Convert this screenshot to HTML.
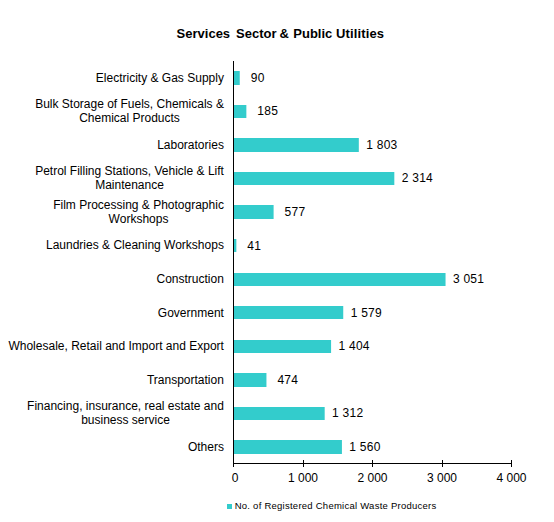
<!DOCTYPE html>
<html><head><meta charset="utf-8"><style>
html,body{margin:0;padding:0;background:#fff;width:554px;height:522px;overflow:hidden}
svg{display:block}
text{font-family:"Liberation Sans",sans-serif;fill:#000;white-space:pre}
.t{font-size:13px;font-weight:bold}
.l{font-size:12px;letter-spacing:0.25px}
.c{font-size:12px;text-anchor:end}
.a{font-size:12px;text-anchor:middle}
.g{font-size:9.5px;letter-spacing:0.25px}
</style></head><body>
<svg width="554" height="522" viewBox="0 0 554 522">
<rect width="554" height="522" fill="#fff"/>
<text y="38" class="t"><tspan x="176.6">Services</tspan><tspan x="236">Sector</tspan><tspan x="279.4">&amp;</tspan><tspan x="293.3">Public</tspan><tspan x="335.9" letter-spacing="0.15">Utilities</tspan></text>
<rect x="234" y="71" width="5.75" height="14" fill="#33CCCC"/>
<text x="247.16" y="82" class="l"> 90</text>
<text x="223.9" y="82" class="c">Electricity &amp; Gas Supply</text>
<rect x="234" y="105" width="12.36" height="13" fill="#33CCCC"/>
<text x="253.76" y="115" class="l"> 185</text>
<text x="223.9" y="108" class="c">Bulk Storage of Fuels, Chemicals &amp;</text>
<text x="129.53" y="122" class="a">Chemical Products</text>
<rect x="234" y="138" width="124.81" height="14" fill="#33CCCC"/>
<text x="366.21" y="149" class="l">1 803</text>
<text x="223.9" y="149" class="c">Laboratories</text>
<rect x="234" y="172" width="160.32" height="13" fill="#33CCCC"/>
<text x="401.72" y="182" class="l">2 314</text>
<text x="223.9" y="175" class="c">Petrol Filling Stations, Vehicle &amp; Lift</text>
<text x="129.51" y="189" class="a">Maintenance</text>
<rect x="234" y="205" width="39.60" height="14" fill="#33CCCC"/>
<text x="281.00" y="216" class="l"> 577</text>
<text x="223.9" y="209" class="c">Film Processing &amp; Photographic</text>
<text x="138.53" y="223" class="a">Workshops</text>
<rect x="234" y="239" width="2.35" height="13" fill="#33CCCC"/>
<text x="243.75" y="250" class="l"> 41</text>
<text x="223.9" y="249" class="c">Laundries &amp; Cleaning Workshops</text>
<rect x="234" y="273" width="211.54" height="13" fill="#33CCCC"/>
<text x="452.94" y="283" class="l">3 051</text>
<text x="223.9" y="283" class="c">Construction</text>
<rect x="234" y="306" width="109.24" height="13" fill="#33CCCC"/>
<text x="350.64" y="317" class="l">1 579</text>
<text x="223.9" y="317" class="c">Government</text>
<rect x="234" y="340" width="97.08" height="13" fill="#33CCCC"/>
<text x="338.48" y="350" class="l">1 404</text>
<text x="223.9" y="350" class="c">Wholesale, Retail and Import and Export</text>
<rect x="234" y="373" width="32.44" height="14" fill="#33CCCC"/>
<text x="273.84" y="384" class="l"> 474</text>
<text x="223.9" y="384" class="c">Transportation</text>
<rect x="234" y="407" width="90.68" height="13" fill="#33CCCC"/>
<text x="332.08" y="417" class="l">1 312</text>
<text x="223.9" y="410" class="c">Financing, insurance, real estate and</text>
<text x="125.50" y="424" class="a">business service</text>
<rect x="234" y="440" width="107.92" height="14" fill="#33CCCC"/>
<text x="349.32" y="451" class="l">1 560</text>
<text x="223.9" y="451" class="c">Others</text>
<rect x="233" y="61" width="1" height="406" fill="#000"/>
<rect x="233" y="463" width="279" height="1" fill="#000"/>
<rect x="303" y="460" width="1" height="7" fill="#000"/>
<rect x="372" y="460" width="1" height="7" fill="#000"/>
<rect x="442" y="460" width="1" height="7" fill="#000"/>
<rect x="511" y="460" width="1" height="7" fill="#000"/>
<text x="233.50" y="482" class="a"> 0</text>
<text x="303.00" y="482" class="a">1 000</text>
<text x="372.50" y="482" class="a">2 000</text>
<text x="442.00" y="482" class="a">3 000</text>
<text x="511.50" y="482" class="a">4 000</text>
<rect x="227" y="504" width="5" height="5" fill="#33CCCC"/>
<text x="234.7" y="508.5" class="g">No. of Registered Chemical Waste Producers</text>
</svg>
</body></html>
